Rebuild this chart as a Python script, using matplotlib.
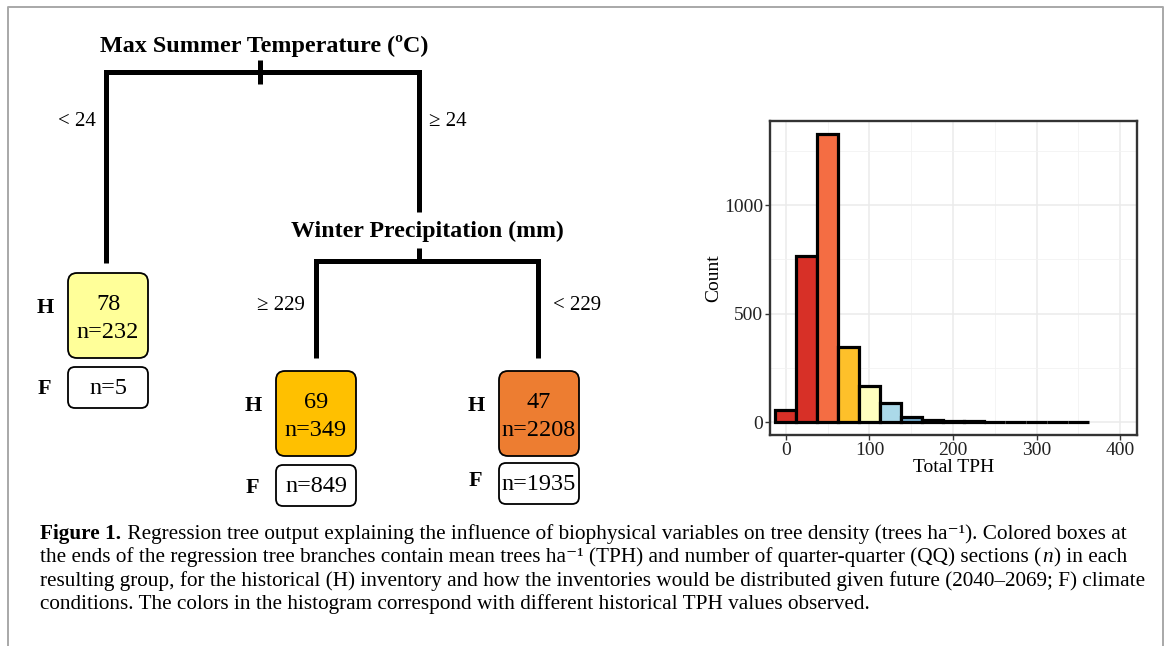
import numpy as np
import matplotlib
matplotlib.use('Agg')
import matplotlib.pyplot as plt
from matplotlib.patches import FancyBboxPatch

plt.rcParams['font.family'] = ['Liberation Serif', 'DejaVu Serif']

# histogram of historical TPH, bins of width 25
tph_bins = [0, 25, 50, 75, 100, 125, 150, 175, 200, 225, 250, 275, 300, 325, 350]
tph_counts = [58, 768, 1328, 345, 168, 87, 27, 12, 6, 5, 2, 1, 1, 1, 1]
bin_colors = ['#d73027', '#d73027', '#f46d43', '#fec02a', '#ffffbf', '#abd9e9',
              '#74add1', '#4575b4', '#4575b4', '#4575b4', '#4575b4', '#4575b4',
              '#4575b4', '#4575b4', '#4575b4']

# regression tree
split_vars = ['Max Summer Temperature (ºC)', 'Winter Precipitation (mm)']
split_left = ['< 24', '≥ 229']
split_right = ['≥ 24', '< 229']
leaf_mean = [78, 69, 47]
leaf_n_hist = [232, 349, 2208]
leaf_n_future = [5, 849, 1935]
leaf_colors = ['#ffff99', '#ffc000', '#ed7d31']

# caption, each line as (text, weight, style) pieces
caption = [
    [('Figure 1.', 'bold', 'normal'),
     (' Regression tree output explaining the influence of biophysical variables on tree density (trees ha⁻¹). Colored boxes at', 'normal', 'normal')],
    [('the ends of the regression tree branches contain mean trees ha⁻¹ (TPH) and number of quarter-quarter (QQ) sections (', 'normal', 'normal'),
     ('n', 'normal', 'italic'),
     (') in each', 'normal', 'normal')],
    [('resulting group, for the historical (H) inventory and how the inventories would be distributed given future (2040–2069; F) climate', 'normal', 'normal')],
    [('conditions. The colors in the histogram correspond with different historical TPH values observed.', 'normal', 'normal')],
]

fig = plt.figure(figsize=(11.67, 6.46), dpi=100)

# whole-figure axes in pixel units for the tree, frame and caption
ax = fig.add_axes([0, 0, 1, 1])
ax.set_xlim(0, 1167)
ax.set_ylim(646, 0)
ax.axis('off')

# page frame
ax.plot([8, 8, 1163, 1163], [646, 7, 7, 646], color='#a8a8a8', lw=1.4)

# tree branches
lw = 3.6
ax.plot([106, 106, 419, 419], [263, 72, 72, 212], color='k', lw=lw,
        solid_joinstyle='miter', solid_capstyle='butt')
ax.plot([260, 260], [60, 84], color='k', lw=lw, solid_capstyle='butt')
ax.plot([419, 419], [248, 261], color='k', lw=lw, solid_capstyle='butt')
ax.plot([316, 316, 538, 538], [358, 261, 261, 358], color='k', lw=lw,
        solid_joinstyle='miter', solid_capstyle='butt')

ax.text(264, 46, split_vars[0], ha='center', va='center', fontsize=17.4, fontweight='bold')
ax.text(427, 231, split_vars[1], ha='center', va='center', fontsize=17.2, fontweight='bold')
ax.text(96, 122, split_left[0], ha='right', va='center', fontsize=15)
ax.text(429, 122, split_right[0], ha='left', va='center', fontsize=15)
ax.text(305, 305, split_left[1], ha='right', va='center', fontsize=15)
ax.text(553, 305, split_right[1], ha='left', va='center', fontsize=15)

# leaves
leaf_x = [108, 316, 539]
hbox_top = [273, 371, 371]
fbox_top = [367, 465, 463]
f_label_y = [389, 488, 481]
for i in range(3):
    cx = leaf_x[i]
    hb = FancyBboxPatch((cx - 40, hbox_top[i]), 80, 85,
                        boxstyle='round,pad=0,rounding_size=9',
                        fc=leaf_colors[i], ec='k', lw=1.3)
    ax.add_patch(hb)
    ax.text(cx, hbox_top[i] + 31, str(leaf_mean[i]), ha='center', va='center', fontsize=17.5)
    ax.text(cx, hbox_top[i] + 59, 'n=%d' % leaf_n_hist[i], ha='center', va='center', fontsize=17.5)
    ax.text(cx - 63, hbox_top[i] + 35, 'H', ha='center', va='center', fontsize=16, fontweight='bold')
    fb = FancyBboxPatch((cx - 40, fbox_top[i]), 80, 41,
                        boxstyle='round,pad=0,rounding_size=7',
                        fc='white', ec='k', lw=1.3)
    ax.add_patch(fb)
    ax.text(cx, fbox_top[i] + 22, 'n=%d' % leaf_n_future[i], ha='center', va='center', fontsize=17.5)
    ax.text(cx - 64, f_label_y[i], 'F', ha='center', va='center', fontsize=16, fontweight='bold')

# caption: first piece of each line at the margin, the rest chained after it
for j, pieces in enumerate(caption):
    s, wt, st = pieces[0]
    prev = ax.text(40, 539 + 23.4 * j, s, ha='left', va='baseline', fontsize=15.3,
                   fontweight=wt, fontstyle=st)
    for s, wt, st in pieces[1:]:
        prev = ax.annotate(s, xy=(1, 0), xycoords=prev, xytext=(1, 0),
                           textcoords='offset pixels', ha='left', va='bottom',
                           fontsize=15.3, fontweight=wt, fontstyle=st)

# histogram
hax = fig.add_axes([770 / 1167, 1 - 435 / 646, 367 / 1167, 314 / 646])
hax.bar(tph_bins, tph_counts, width=25, color=bin_colors, edgecolor='black',
        linewidth=2.3, zorder=3)
hax.set_xlim(-19, 420)
hax.set_ylim(-58, 1387)
hax.set_xticks([0, 100, 200, 300, 400])
hax.set_xticks([50, 150, 250, 350], minor=True)
hax.set_yticks([0, 500, 1000])
hax.set_yticks([250, 750, 1250], minor=True)
hax.grid(which='major', color='#ebebeb', lw=1.1, zorder=0)
hax.grid(which='minor', color='#f2f2f2', lw=0.6, zorder=0)
hax.set_axisbelow(True)
for s in hax.spines.values():
    s.set_color('#333333')
    s.set_linewidth(1.7)
hax.tick_params(which='major', direction='out', length=3.5, width=1, color='#333333',
                labelsize=14, labelcolor='#222222', pad=1.5)
hax.tick_params(which='minor', length=0)
hax.set_xlabel('Total TPH', fontsize=14, labelpad=0)
hax.set_ylabel('Count', fontsize=14, labelpad=1)

fig.savefig('out.png', dpi=100)
